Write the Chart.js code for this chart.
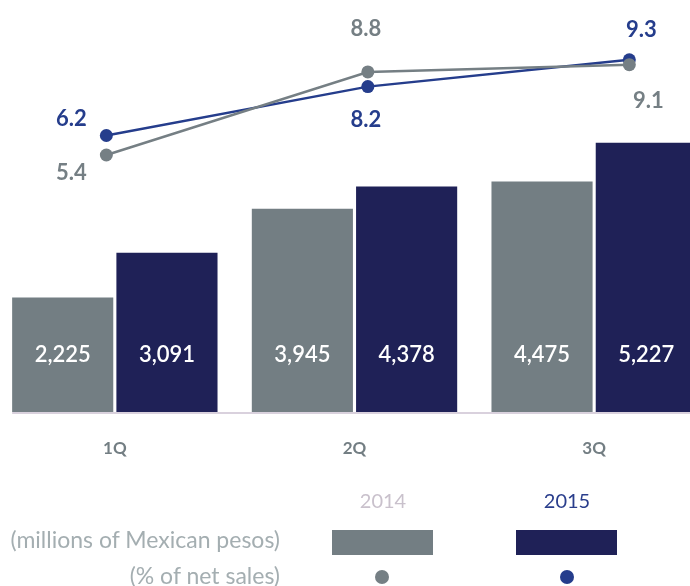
<!DOCTYPE html>
<html>
<head>
<meta charset="utf-8">
<script src="https://cdn.jsdelivr.net/npm/chart.js@4"></script>
<style>
  html, body { margin: 0; padding: 0; background: #fff; overflow: hidden; }
  #wrap { position: relative; width: 690px; height: 586px; overflow: hidden; font-family: Lato, "Noto Sans", sans-serif; }
  canvas { position: absolute; left: -5px; top: 0; }
  .lg { position: absolute; white-space: nowrap; font-size: 20px; line-height: 24px; }
  .note { font-size: 23px; color: #a4aeb1; }
  .box { position: absolute; width: 101px; height: 25px; }
  .dot { position: absolute; width: 14px; height: 14px; border-radius: 50%; }
</style>
</head>
<body>
<div id="wrap">
  <canvas id="bars" width="719" height="586"></canvas>
  <canvas id="lines" width="719" height="586"></canvas>
  <div class="lg" style="left:333px;width:100px;text-align:center;top:488px;color:#c9c1cc">2014</div>
  <div class="lg" style="left:517px;width:100px;text-align:center;top:488px;color:#2a3e8c">2015</div>
  <div class="lg note" style="right:410px;top:527px">(millions of Mexican pesos)</div>
  <div class="lg note" style="right:410px;top:563px">(% of net sales)</div>
  <div class="box" style="left:332px;top:530px;background:#737e83"></div>
  <div class="box" style="left:516px;top:530px;background:#1f2157"></div>
  <div class="dot" style="left:375px;top:570px;background:#757f84"></div>
  <div class="dot" style="left:560px;top:570px;background:#253d8c"></div>
</div>
<script>
const quarters = ["1Q", "2Q", "3Q"];
const sales2014 = [2225, 3945, 4475];
const sales2015 = [3091, 4378, 5227];
const pct2014 = [5.4, 8.8, 9.1];
const pct2015 = [6.2, 8.2, 9.3];

const GRAY = "#737e83";
const NAVY = "#1f2157";
const LINE_GRAY = "#757f84";
const LINE_BLUE = "#253d8c";

// both charts keep the same plot area, with room below for the quarter labels
const layout = { padding: { top: 0, left: 0, right: 0, bottom: 174 } };

// where each percentage label sits relative to its point
const pctLabelOffsets = [
  [[-35, 18], [-2, -43], [19, 36]],
  [[-35, -17], [-2, 33], [12, -30]]
];

const barLabels = {
  id: "barLabels",
  beforeDatasetsDraw(chart) {
    const ctx = chart.ctx;
    const area = chart.chartArea;
    const first = chart.getDatasetMeta(0).data[0];
    ctx.save();
    ctx.strokeStyle = "#d9d1dd";
    ctx.lineWidth = 2;
    ctx.beginPath();
    ctx.moveTo(first.x - first.width / 2, area.bottom + 1);
    ctx.lineTo(area.right, area.bottom + 1);
    ctx.stroke();
    ctx.restore();
  },
  afterDatasetsDraw(chart) {
    const ctx = chart.ctx;
    const area = chart.chartArea;
    ctx.save();
    ctx.textAlign = "center";
    ctx.textBaseline = "middle";

    ctx.font = "600 22px Lato, sans-serif";
    ctx.fillStyle = "#ffffff";
    chart.data.datasets.forEach((ds, di) => {
      chart.getDatasetMeta(di).data.forEach((bar, i) => {
        ctx.fillText(ds.data[i].toLocaleString("en-US"), bar.x, area.bottom - 57);
      });
    });

    ctx.font = "bold 17px Lato, sans-serif";
    ctx.fillStyle = "#737e83";
    quarters.forEach((q, i) => {
      ctx.fillText(q, chart.scales.x.getPixelForValue(i), area.bottom + 37);
    });
    ctx.restore();
  }
};

const pointLabels = {
  id: "pointLabels",
  afterDatasetsDraw(chart) {
    const ctx = chart.ctx;
    ctx.save();
    ctx.textAlign = "center";
    ctx.textBaseline = "middle";
    ctx.font = "bold 22px Lato, sans-serif";
    chart.data.datasets.forEach((ds, di) => {
      ctx.fillStyle = ds.borderColor;
      chart.getDatasetMeta(di).data.forEach((pt, i) => {
        const off = pctLabelOffsets[di][i];
        ctx.fillText(ds.data[i].y.toFixed(1), pt.x + off[0], pt.y + off[1]);
      });
    });
    ctx.restore();
  }
};

new Chart(document.getElementById("bars"), {
  type: "bar",
  data: {
    labels: quarters,
    datasets: [
      { label: "2014", data: sales2014, backgroundColor: GRAY },
      { label: "2015", data: sales2015, backgroundColor: NAVY }
    ]
  },
  options: {
    responsive: false,
    animation: false,
    layout: layout,
    categoryPercentage: 0.87,
    barPercentage: 0.97,
    plugins: { legend: { display: false }, tooltip: { enabled: false } },
    scales: {
      x: { display: false },
      y: { display: false, min: 0, max: 8000 }
    }
  },
  plugins: [barLabels]
});

const lineStyle = color => ({
  borderColor: color,
  backgroundColor: color,
  borderWidth: 2.5,
  pointRadius: 6.5,
  pointHoverRadius: 6.5,
  pointBorderWidth: 0,
  tension: 0
});

new Chart(document.getElementById("lines"), {
  type: "line",
  data: {
    datasets: [
      { label: "2014 %", data: pct2014.map((v, i) => ({ x: i, y: v })), ...lineStyle(LINE_GRAY) },
      { label: "2015 %", data: pct2015.map((v, i) => ({ x: i, y: v })), ...lineStyle(LINE_BLUE) }
    ]
  },
  options: {
    responsive: false,
    animation: false,
    layout: layout,
    plugins: { legend: { display: false }, tooltip: { enabled: false } },
    scales: {
      x: { type: "linear", display: false, min: -0.401, max: 2.299 },
      y: { display: false, min: -5.12, max: 11.48 }
    }
  },
  plugins: [pointLabels]
});
</script>
</body>
</html>
